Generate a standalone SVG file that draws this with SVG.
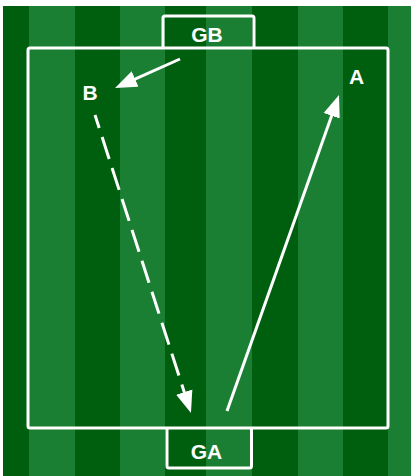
<svg xmlns="http://www.w3.org/2000/svg" width="411" height="476" viewBox="0 0 411 476">
  <style>
    .dark { fill: #005f0f; }
    .light { fill: #1a7f32; }
    .line { fill: none; stroke: #ffffff; stroke-width: 3; }
    .lbl { fill: #ffffff; font-family: "Liberation Sans", Arial, sans-serif; font-weight: bold; font-size: 21px; text-anchor: middle; }
    .conn { fill: none; stroke: #ffffff; stroke-width: 3; }
  </style>
  <defs>
    <marker id="head" markerUnits="userSpaceOnUse" viewBox="0 -9 22 18" markerWidth="22" markerHeight="18" refX="10" refY="0" orient="auto">
      <path d="M0,-8.5 L22,0 L0,8.5 z" fill="#ffffff"/>
    </marker>
  </defs>
  <rect x="0" y="0" width="411" height="476" fill="#ffffff"/>
  <g id="pitch">
    <rect class="dark" x="3" y="6" width="26" height="470"/>
    <rect class="light" x="29" y="6" width="46" height="470"/>
    <rect class="dark" x="75" y="6" width="45" height="470"/>
    <rect class="light" x="120" y="6" width="45" height="470"/>
    <rect class="dark" x="165" y="6" width="41" height="470"/>
    <rect class="light" x="206" y="6" width="46" height="470"/>
    <rect class="dark" x="252" y="6" width="46" height="470"/>
    <rect class="light" x="298" y="6" width="45" height="470"/>
    <rect class="dark" x="343" y="6" width="45" height="470"/>
    <rect class="light" x="388" y="6" width="23" height="470"/>
    <rect class="line" x="28" y="48" width="360" height="380" rx="2"/>
  </g>
  <g id="GB">
    <path class="line" d="M163,48 V18 Q163,16 165,16 H252 Q254,16 254,18 V48"/>
    <text class="lbl" x="207" y="42">GB</text>
  </g>
  <g id="GA">
    <path class="line" d="M167,428 V466 Q167,468 169,468 H249.5 Q251.5,468 251.5,466 V428"/>
    <text class="lbl" x="206.5" y="459">GA</text>
  </g>
  <g id="B">
    <text class="lbl" x="90" y="100">B</text>
  </g>
  <g id="A">
    <text class="lbl" x="356.5" y="84">A</text>
  </g>
  <g id="connectors">
    <line class="conn" x1="180" y1="59" x2="126" y2="83.1" marker-end="url(#head)"/>
    <line class="conn" x1="95" y1="115" x2="187.3" y2="401.6" stroke-dasharray="23 9.5" stroke-dashoffset="9.3" marker-end="url(#head)"/>
    <line class="conn" x1="227" y1="411" x2="335" y2="106.3" marker-end="url(#head)"/>
  </g>
</svg>
